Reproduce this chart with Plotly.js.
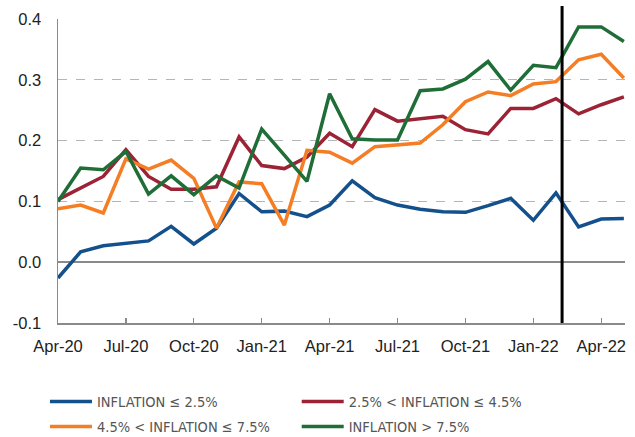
<!DOCTYPE html>
<html>
<head>
<meta charset="utf-8">
<script src="https://cdn.plot.ly/plotly-3.0.1.min.js"></script>
<style>html,body{margin:0;padding:0;background:#fff;}#chart{width:635px;height:437px;}</style>
</head>
<body>
<div id="chart"></div>
<script>
const months = ['Apr-20','May-20','Jun-20','Jul-20','Aug-20','Sep-20','Oct-20','Nov-20','Dec-20','Jan-21','Feb-21','Mar-21',
  'Apr-21','May-21','Jun-21','Jul-21','Aug-21','Sep-21','Oct-21','Nov-21','Dec-21','Jan-22','Feb-22','Mar-22','Apr-22','May-22'];
const tickLabels = ['Apr-20','Jul-20','Oct-20','Jan-21','Apr-21','Jul-21','Oct-21','Jan-22','Apr-22'];
const yTickVals = [-0.1, 0, 0.1, 0.2, 0.3, 0.4];
const yTickText = ['-0.1', '0.0', '0.1', '0.2', '0.3', '0.4'];

const seriesNames = ['INFLATION \u2264 2.5%', '2.5% < INFLATION \u2264 4.5%', '4.5% < INFLATION \u2264 7.5%', 'INFLATION > 7.5%'];

const low = [-0.026,0.017,0.027,0.031,0.035,0.059,0.030,0.056,0.113,0.083,0.084,0.075,0.094,0.134,0.106,0.094,0.087,0.083,0.082,0.093,0.105,0.069,0.114,0.058,0.071,0.072];
const midLow = [0.103,0.122,0.141,0.185,0.141,0.120,0.120,0.124,0.206,0.159,0.154,0.173,0.212,0.190,0.251,0.232,0.236,0.240,0.218,0.211,0.253,0.253,0.269,0.244,0.259,0.272];
const midHigh = [0.088,0.094,0.081,0.170,0.153,0.168,0.138,0.056,0.132,0.129,0.061,0.184,0.181,0.163,0.190,0.193,0.196,0.226,0.264,0.280,0.274,0.293,0.297,0.333,0.342,0.303];
const high = [0.100,0.155,0.152,0.182,0.112,0.142,0.111,0.142,0.122,0.219,0.176,0.133,0.277,0.203,0.201,0.201,0.282,0.285,0.301,0.330,0.283,0.324,0.320,0.387,0.387,0.363];

const markerMonth = 22.27; // position of vertical line (between Feb-22 and Mar-22)

const colors = ['#14508c', '#9b2335', '#f57d23', '#1f6e37'];
const values = [low, midLow, midHigh, high];
const legendIds = ['legend', 'legend2', 'legend', 'legend2'];

const traces = values.map((v, i) => ({
  x: months, y: v, name: seriesNames[i], type: 'scatter', mode: 'lines',
  legend: legendIds[i], legendgroup: 'g' + i,
  line: {color: colors[i], width: 3.5}
}));

const legendFont = {family: 'Liberation Sans Narrow, DejaVu Sans Condensed, sans-serif', size: 14.5, color: '#555'};
const legendBase = {
  orientation: 'v', xanchor: 'left', y: -0.206, yanchor: 'top',
  itemwidth: 42, font: legendFont, traceorder: 'grouped', tracegroupgap: 3,
  bgcolor: 'rgba(0,0,0,0)', borderwidth: 0
};

const layout = {
  width: 635, height: 437,
  margin: {l: 58, r: 10, t: 19, b: 114, autoexpand: false},
  paper_bgcolor: '#fff', plot_bgcolor: '#fff',
  font: {family: 'Liberation Sans, Arial, sans-serif', size: 16.5, color: '#222'},
  xaxis: {
    type: 'category', categoryorder: 'array', categoryarray: months,
    range: [0, 25.05], tickmode: 'array', tickvals: tickLabels, ticktext: tickLabels,
    showgrid: false, zeroline: false, showline: true, linecolor: '#8a8a8a', linewidth: 1.5,
    ticks: 'inside', ticklen: 5, tickcolor: '#8a8a8a', tickwidth: 1.2, ticklabelstandoff: 8,
    tickfont: {size: 16.5, color: '#222'}, automargin: false
  },
  yaxis: {
    range: [-0.1, 0.4], tickmode: 'array', tickvals: yTickVals, ticktext: yTickText,
    showgrid: true, gridcolor: '#b5b5b5', griddash: 'dash', gridwidth: 1.3,
    zeroline: true, zerolinecolor: '#8a8a8a', zerolinewidth: 1.5,
    showline: true, linecolor: '#8a8a8a', linewidth: 1.5, ticks: '', ticklabelstandoff: 12,
    tickfont: {size: 16.5, color: '#222'}, automargin: false
  },
  shapes: [{
    type: 'line', xref: 'x', yref: 'paper', x0: markerMonth, x1: markerMonth, y0: 0, y1: 1.043,
    line: {color: '#000', width: 3}
  }],
  showlegend: true,
  legend: Object.assign({}, legendBase, {x: -0.023}),
  legend2: Object.assign({}, legendBase, {x: 0.421})
};

Plotly.newPlot('chart', traces, layout, {displayModeBar: false, staticPlot: true});
</script>
</body>
</html>
